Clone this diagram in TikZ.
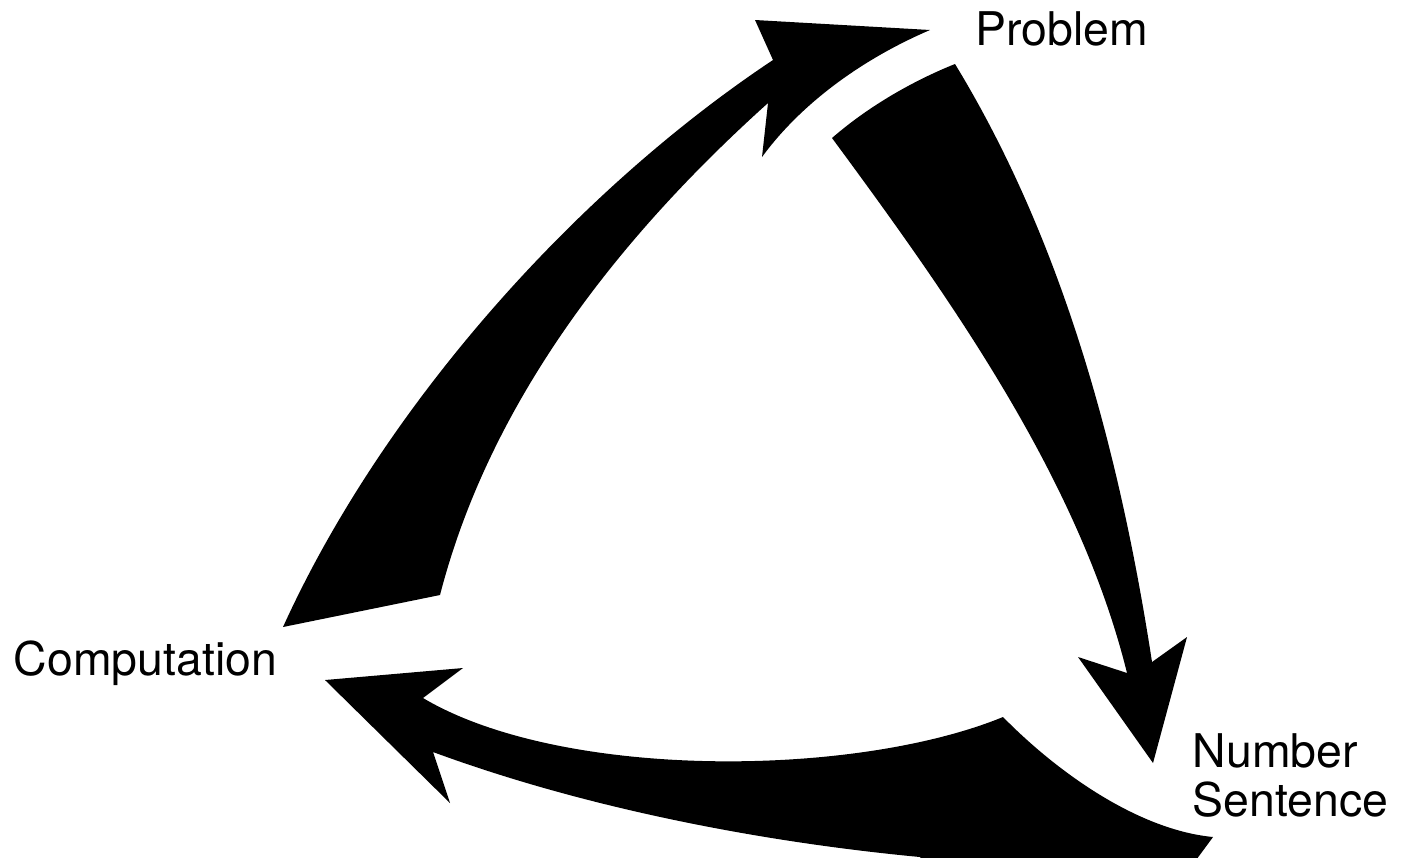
\documentclass[tikz,border=0pt]{standalone}
\usepackage{fontspec}
\setmainfont{TeX Gyre Heros}
\usetikzlibrary{positioning}
\tikzset{
  labelnode/.style={inner sep=0pt,align=left,font=\fontsize{13.2}{13.95}\selectfont},
  inkarrow/.style={fill=black,draw=none}
}

\begin{document}
\begin{tikzpicture}[x=0.01cm,y=-0.01cm]

  \useasboundingbox (0,0) rectangle (1407,857);
  \clip (0,0) rectangle (1407,857);
  \fill[white] (0,0) rectangle (1407,857);

  \node[labelnode,anchor=base west] (problem) at (975,45) {Problem};
  \node[labelnode,anchor=base west] (computation) at (13,675) {Computation};
  \node[labelnode,anchor=north west] (sentence) at (1192,733) {Number\\Sentence};

  % computation -> problem
  \fill[inkarrow] (283,627) -- (440,595)
    .. controls (490,401) and (619,237) .. (768,103)
    -- (762,157) .. controls (800,105) and (860,60) .. (930,30)
    -- (755,20) -- (773,60)
    .. controls (573,193) and (382,409) .. (283,627)
    -- cycle;

  % problem -> number sentence
  \fill[inkarrow] (832,138) .. controls (870,105) and (915,80) .. (955,64)
    .. controls (1064,243) and (1120,454) .. (1152,662)
    -- (1187,637) -- (1153,763) -- (1078,657) -- (1127,673)
    .. controls (1079,479) and (950,298) .. (832,138)
    -- cycle;

  % number sentence -> computation
  \fill[inkarrow] (1003,717) .. controls (1060,775) and (1140,830) .. (1213,837)
    -- (1185,875) -- (935,875) -- (920,857)
    .. controls (761,842) and (585,808) .. (433,752)
    -- (450,803) -- (325,680) -- (463,668) -- (423,698)
    .. controls (561,780) and (854,778) .. (1003,717)
    -- cycle;

\end{tikzpicture}
\end{document}
